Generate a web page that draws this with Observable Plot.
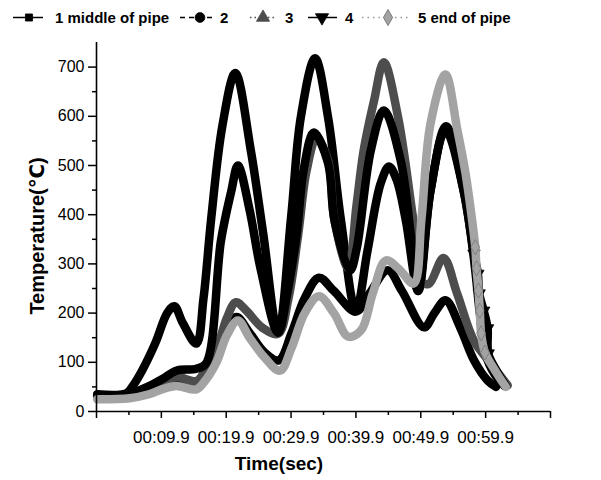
<!DOCTYPE html>
<html><head><meta charset="utf-8">
<script src="https://cdn.jsdelivr.net/npm/d3@7"></script>
<script src="https://cdn.jsdelivr.net/npm/@observablehq/plot@0.6"></script>
<style>html,body{margin:0;padding:0;background:#fff;} #chart{width:601px;height:480px;}</style>
</head><body><div id="chart"></div>
<script>
// ---- data ----
const seriesNames = ["1 middle of pipe", "2", "3", "4", "5 end of pipe"];

const t1 = [0, 4.5, 5.5, 7.0, 9.0, 10.8, 11.9, 13.2, 15.3, 16.4, 17.6, 19.3, 21.3, 23.7, 25.6, 27.9, 29.9, 31.4, 33.6, 35.6, 37.6, 39.9, 41.7, 43.7, 45.0, 46.2, 47.6, 49.5, 51.4, 53.7, 56.5, 58.0, 59.0, 59.8, 61.3, 62.8];
const v1 = [35, 37, 52, 85, 140, 200, 214, 180, 138, 230, 394, 580, 688, 530, 362, 160, 394, 598, 718, 598, 388, 205, 328, 463, 498, 470, 388, 245, 449, 572, 449, 320, 200, 120, 75, 52];

const t2 = [0, 5, 8, 10, 12.2, 15.3, 16.5, 18.4, 20.0, 21.5, 23.5, 25.8, 28.0, 30.0, 32.0, 34.2, 36.5, 39.9, 42.0, 44.8, 47.0, 50.4, 52.0, 53.7, 56.0, 58.1, 60.2, 61.5];
const v2 = [28, 30, 40, 50, 60, 55, 70, 110, 165, 192, 160, 120, 104, 160, 230, 272, 245, 203, 240, 287, 245, 171, 200, 226, 170, 104, 63, 50];

const t3 = [0, 5, 8, 10, 12.2, 15.3, 16.5, 18.4, 20.0, 21.4, 23.0, 25.5, 27.9, 29.5, 31.0, 32.3, 33.8, 35.6, 36.6, 38.7, 40.0, 41.1, 42.7, 44.2, 46.4, 48.7, 50.2, 51.2, 53.4, 55.5, 58.1, 60.7, 63.3];
const v3 = [30, 32, 45, 58, 70, 62, 80, 125, 190, 222, 205, 170, 158, 230, 360, 490, 555, 510, 388, 291, 420, 531, 632, 710, 598, 394, 262, 260, 312, 240, 144, 98, 53];

const t4 = [0, 5.0, 6.5, 8.5, 10.2, 12.2, 15.3, 16.8, 19.1, 20.7, 21.7, 23.5, 25.2, 27.9, 29.3, 30.7, 31.9, 33.4, 35.6, 36.6, 39.0, 40.0, 42.2, 44.2, 46.8, 48.4, 49.5, 51.4, 53.8, 56.5, 58.1, 58.7, 58.9, 59.6, 60.2, 60.3, 61.5, 63.0];
const v4 = [33, 35, 43, 55, 67, 83, 87, 98, 348, 449, 500, 410, 290, 160, 240, 354, 496, 567, 505, 388, 287, 330, 531, 612, 510, 354, 245, 449, 580, 449, 321, 280, 240, 205, 169, 118, 85, 52];

const t5 = [0, 5, 8, 10, 12.2, 15.3, 16.5, 18.4, 20.0, 21.7, 23.5, 25.8, 28.2, 30.0, 32.0, 34.2, 36.5, 38.7, 40.7, 42.5, 44.5, 46.5, 48.8, 50.0, 51.4, 53.7, 55.5, 56.8, 57.9, 58.3, 58.5, 58.8, 59.0, 59.2, 59.8, 61.5, 63.0];
const v5 = [25, 27, 35, 45, 52, 45, 60, 100, 155, 185, 150, 110, 83, 130, 200, 234, 200, 152, 165, 240, 307, 290, 260, 391, 585, 685, 575, 484, 380, 334, 291, 246, 205, 159, 120, 80, 50];

const xMajorTicks = [-0.1, 9.9, 19.9, 29.9, 39.9, 49.9, 59.9, 69.9];
const xLabelTicks = [9.9, 19.9, 29.9, 39.9, 49.9, 59.9];
const xMinorTicks = [4.9, 14.9, 24.9, 34.9, 44.9, 54.9, 64.9];
const yMajorTicks = [0, 100, 200, 300, 400, 500, 600, 700];
const yMinorTicks = [50, 150, 250, 350, 450, 550, 650];

// ---- styling ----
const colors = ["#000", "#000", "#4d4d4d", "#000", "#a3a3a3"];
const sqrt3 = Math.sqrt(3);
const downTriangle = {
  draw(ctx, size) {
    const y = -Math.sqrt(size / (sqrt3 * 3));
    ctx.moveTo(0, -y * 2);
    ctx.lineTo(-sqrt3 * y, y);
    ctx.lineTo(sqrt3 * y, y);
    ctx.closePath();
  }
};
const symbols = ["square", "circle", "triangle", downTriangle, "diamond"];

const T = [t1, t2, t3, t4, t5], V = [v1, v2, v3, v4, v5];
const rows = seriesNames.flatMap((name, i) => T[i].map((t, j) => ({series: name, t, v: V[i][j]})));

const fmt = t => xLabelTicks.includes(t) ? "00:" + d3.format("04.1f")(t) : "";

const seriesMarks = seriesNames.flatMap((name, i) => {
  const d = rows.filter(r => r.series === name);
  const marks = [
    Plot.line(d, {x: "t", y: "v", stroke: colors[i], strokeWidth: 8.5, curve: "catmull-rom", strokeLinejoin: "round", strokeLinecap: "round"})
  ];
  // separate markers are only visible where the trace falls steeply at the end
  if (i === 3 || i === 4) {
    marks.push(Plot.dot(d.filter(r => r.t >= 58 && r.t <= 60.3), {x: "t", y: "v", fill: colors[i], stroke: i === 4 ? "#777" : colors[i], strokeWidth: 0.8, symbol: symbols[i], r: 4.6}));
  }
  return marks;
});

const chart = Plot.plot({
  width: 601, height: 480,
  marginLeft: 96, marginRight: 51, marginTop: 42, marginBottom: 69,
  x: {domain: [-0.1, 69.9], label: null},
  y: {domain: [0, 750], label: null},
  style: {fontFamily: "'Liberation Sans', Arial, sans-serif", background: "#fff", color: "#000", overflow: "visible"},
  marks: [
    Plot.axisY(yMajorTicks, {tickSize: 8, tickPadding: 4, fontSize: 16, strokeWidth: 1.5, label: null}),
    Plot.axisY(yMinorTicks, {tickSize: 4, tickFormat: () => "", strokeWidth: 1.5, label: null}),
    Plot.axisX(xMajorTicks, {tickSize: 7, tickPadding: 12, fontSize: 17, tickFormat: fmt, strokeWidth: 1.5, label: null}),
    Plot.axisX(xMinorTicks, {tickSize: 4, tickFormat: () => "", strokeWidth: 1.5, label: null}),
    ...seriesMarks,
    Plot.ruleX([-0.1], {strokeWidth: 1.6}),
    Plot.ruleY([0], {strokeWidth: 1.6})
  ]
});
document.getElementById("chart").appendChild(chart);

// ---- titles and legend ----
const svg = d3.select(chart);
const font = "'Liberation Sans', Arial, 'DejaVu Sans', sans-serif";
svg.append("text").attr("transform", "translate(37,236) rotate(-90)")
  .attr("text-anchor", "middle").attr("dominant-baseline", "central")
  .attr("font-family", font).attr("font-weight", "bold").attr("font-size", 20).text("Temperature(℃)");
svg.append("text").attr("x", 279).attr("y", 470).attr("text-anchor", "middle")
  .attr("font-family", font).attr("font-weight", "bold").attr("font-size", 19).text("Time(sec)");

const legendItems = [
  {x1: 13, x2: 43, mx: 29, tx: 55, dash: null},
  {x1: 180, x2: 213, mx: 200, tx: 220, dash: "5,4"},
  {x1: 250, x2: 277, mx: 263, tx: 285, dash: "1.5,3"},
  {x1: 308, x2: 337, mx: 322, tx: 345, dash: null},
  {x1: 362, x2: 410, mx: 388, tx: 418, dash: "1.5,4"}
];
const lg = svg.append("g").attr("font-family", font).attr("font-weight", "bold").attr("font-size", 15).attr("text-anchor", "start");
legendItems.forEach((it, i) => {
  lg.append("line").attr("x1", it.x1).attr("x2", it.x2).attr("y1", 17.5).attr("y2", 17.5)
    .attr("stroke", i === 4 ? "#999" : colors[i]).attr("stroke-width", 1.5)
    .attr("stroke-dasharray", it.dash);
  const sym = typeof symbols[i] === "string"
    ? {square: d3.symbolSquare, circle: d3.symbolCircle, triangle: d3.symbolTriangle, diamond: d3.symbolDiamond}[symbols[i]]
    : symbols[i];
  lg.append("path").attr("d", d3.symbol(sym, i === 0 ? 50 : 75)())
    .attr("transform", `translate(${it.mx},17.5)`)
    .attr("fill", colors[i]).attr("stroke", i === 4 ? "#666" : colors[i]).attr("stroke-width", 0.8);
  lg.append("text").attr("x", it.tx).attr("y", 23).attr("text-anchor", "start").text(seriesNames[i]);
});
</script>
</body></html>
